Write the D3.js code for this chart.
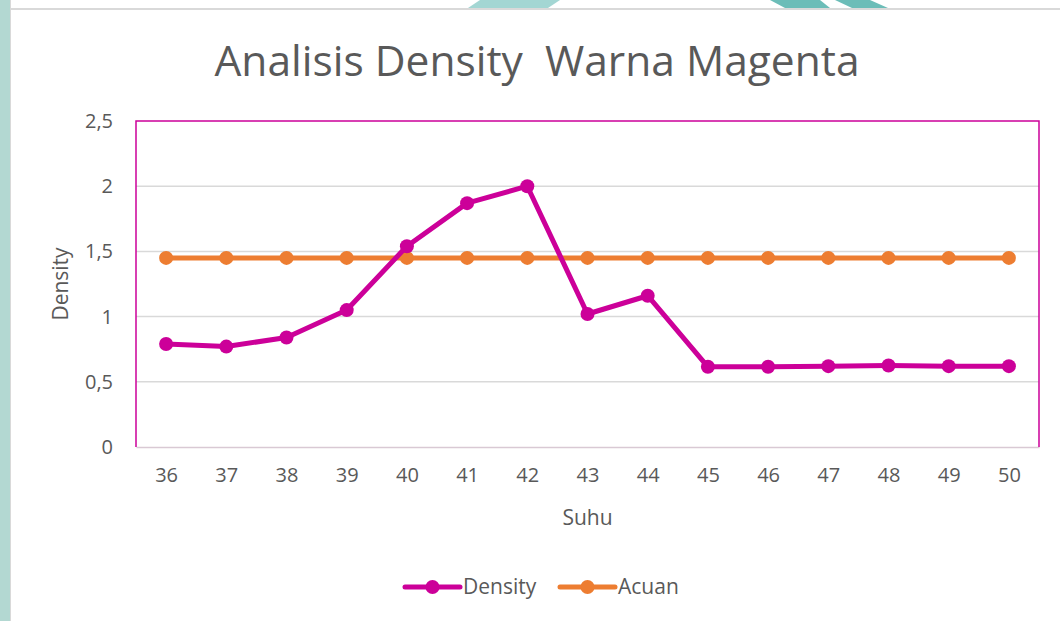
<!DOCTYPE html>
<html>
<head>
<meta charset="utf-8">
<script src="https://cdn.jsdelivr.net/npm/d3@7"></script>
<style>
  body { margin: 0; background: #fff; }
  svg { display: block; font-family: "Open Sans", sans-serif; }
</style>
</head>
<body>
<div id="container"></div>
<script>
/* DATA */
const suhu = ["36", "37", "38", "39", "40", "41", "42", "43", "44", "45", "46", "47", "48", "49", "50"];
const density = [0.79, 0.77, 0.84, 1.05, 1.54, 1.87, 2.0, 1.02, 1.16, 0.615, 0.615, 0.62, 0.625, 0.62, 0.62];
const acuan = [1.45, 1.45, 1.45, 1.45, 1.45, 1.45, 1.45, 1.45, 1.45, 1.45, 1.45, 1.45, 1.45, 1.45, 1.45];
const yTicks = [0, 0.5, 1, 1.5, 2, 2.5];
const seriesNames = ["Density", "Acuan"];

/* CONSTANTS */
const width = 1060, height = 621;
const margin = { top: 121, right: 21, bottom: 174, left: 136 };
const colors = { Density: "#CC0099", Acuan: "#ED7D31" };
const textColor = "#595959";

const svg = d3.select("#container")
  .append("svg")
  .attr("width", width)
  .attr("height", height);

// page decoration (slide background strip)
svg.append("rect").attr("x", 0).attr("y", 0).attr("width", 10).attr("height", height).attr("fill", "#b3d8d2");
svg.append("rect").attr("x", 10).attr("y", 0).attr("width", 1).attr("height", height).attr("fill", "#d9d9d9");
svg.append("polygon").attr("points", "480,0 560,0 548,8 468,8").attr("fill", "#7cc4c0").attr("opacity", 0.7);
svg.append("polygon").attr("points", "770,0 820,0 830,8 785,8").attr("fill", "#6cbdb8");
svg.append("polygon").attr("points", "835,0 870,0 888,8 852,8").attr("fill", "#6cbdb8");
svg.append("rect").attr("x", 10).attr("y", 8).attr("width", width - 10).attr("height", 2).attr("fill", "#d9d9d9");

/* SCALES */
const xScale = d3.scalePoint()
  .domain(suhu)
  .range([margin.left, width - margin.right])
  .padding(0.5);

const yScale = d3.scaleLinear()
  .domain([0, 2.5])
  .range([height - margin.bottom, margin.top]);

const fmt = d => String(d).replace(".", ",");

// title
svg.append("text")
  .attr("x", 537)
  .attr("y", 76)
  .attr("text-anchor", "middle")
  .attr("fill", textColor)
  .style("font-size", "42.5px")
  .style("white-space", "pre")
  .text("Analisis Density  Warna Magenta");

// gridlines
svg.append("g")
  .selectAll("line")
  .data(yTicks.filter(d => d > 0 && d < 2.5))
  .join("line")
  .attr("x1", margin.left)
  .attr("x2", width - margin.right)
  .attr("y1", d => yScale(d))
  .attr("y2", d => yScale(d))
  .attr("stroke", "#d9d9d9")
  .attr("stroke-width", 1.5);

// y axis labels
const yAxis = d3.axisLeft(yScale)
  .tickValues(yTicks)
  .tickFormat(fmt)
  .tickSize(0)
  .tickPadding(23);

svg.append("g")
  .attr("transform", `translate(${margin.left},0)`)
  .call(yAxis)
  .call(g => g.select(".domain").remove())
  .selectAll("text")
  .attr("fill", textColor)
  .style("font-size", "20px")
  .style("font-family", "'Open Sans', sans-serif");

// x axis labels
const xAxis = d3.axisBottom(xScale)
  .tickSize(0)
  .tickPadding(21);

svg.append("g")
  .attr("transform", `translate(0,${height - margin.bottom})`)
  .call(xAxis)
  .call(g => g.select(".domain").attr("stroke", "#d9c9d4").attr("stroke-width", 1.5))
  .selectAll("text")
  .attr("fill", textColor)
  .style("font-size", "20px")
  .style("font-family", "'Open Sans', sans-serif");

// plot border (magenta) left, top, right
const x0 = margin.left, x1 = width - margin.right, y0 = margin.top, y1 = height - margin.bottom;
svg.append("path")
  .attr("d", `M${x0},${y1}V${y0}H${x1}V${y1}`)
  .attr("fill", "none")
  .attr("stroke", colors.Density)
  .attr("stroke-width", 1.5);

// axis titles
svg.append("text")
  .attr("transform", `translate(68,${(y0 + y1) / 2}) rotate(-90)`)
  .attr("text-anchor", "middle")
  .attr("fill", textColor)
  .style("font-size", "21px")
  .text("Density");

svg.append("text")
  .attr("x", (x0 + x1) / 2)
  .attr("y", 525)
  .attr("text-anchor", "middle")
  .attr("fill", textColor)
  .style("font-size", "21px")
  .text("Suhu");

/* LINES */
const line = d3.line()
  .x((d, i) => xScale(suhu[i]))
  .y(d => yScale(d));

const seriesData = [
  { name: "Acuan", values: acuan },
  { name: "Density", values: density }
];

seriesData.forEach(s => {
  const g = svg.append("g");
  g.append("path")
    .datum(s.values)
    .attr("d", line)
    .attr("fill", "none")
    .attr("stroke", colors[s.name])
    .attr("stroke-width", 5)
    .attr("stroke-linejoin", "round");
  g.selectAll("circle")
    .data(s.values)
    .join("circle")
    .attr("cx", (d, i) => xScale(suhu[i]))
    .attr("cy", d => yScale(d))
    .attr("r", 7)
    .attr("fill", colors[s.name]);
});

/* LEGEND */
const legendX = [405, 560];
const legend = svg.append("g")
  .selectAll("g")
  .data(seriesNames)
  .join("g")
  .attr("transform", (d, i) => `translate(${legendX[i]},587)`);

legend.append("line")
  .attr("x1", 0).attr("x2", 55)
  .attr("stroke", d => colors[d])
  .attr("stroke-width", 5)
  .attr("stroke-linecap", "round");

legend.append("circle")
  .attr("cx", 27.5)
  .attr("r", 7)
  .attr("fill", d => colors[d]);

legend.append("text")
  .attr("x", 58)
  .attr("dy", "0.35em")
  .attr("fill", textColor)
  .style("font-size", "21px")
  .text(d => d);
</script>
</body>
</html>
